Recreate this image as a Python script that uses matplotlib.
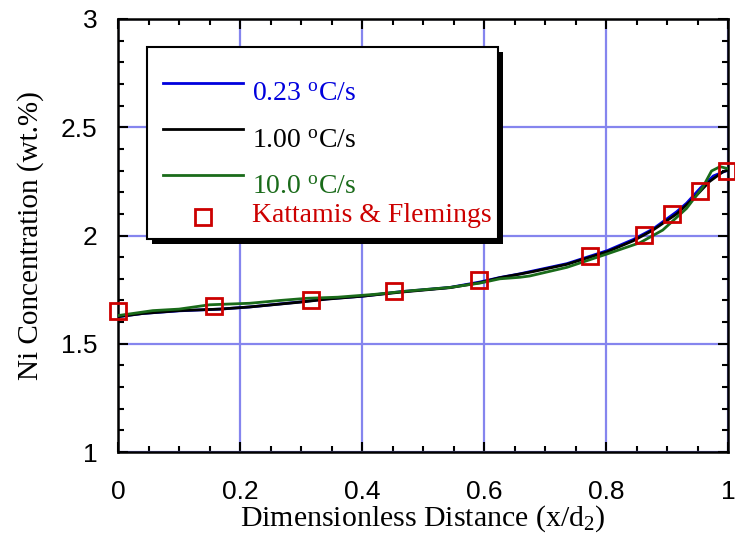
import numpy as np
import matplotlib
matplotlib.use("Agg")
import matplotlib.pyplot as plt
from matplotlib.ticker import MultipleLocator
from matplotlib.patches import Rectangle

plt.rcParams["mathtext.fontset"] = "custom"
plt.rcParams["mathtext.rm"] = "Liberation Serif"
plt.rcParams["mathtext.it"] = "Liberation Serif:italic"

# Kattamis & Flemings measurements
exp_x = [0.0, 0.157, 0.316, 0.452, 0.591, 0.773, 0.863, 0.909, 0.954, 0.998]
exp_y = [1.652, 1.673, 1.703, 1.745, 1.796, 1.907, 2.002, 2.099, 2.206, 2.298]

# simulated profiles
x_black = [0.0, 0.041, 0.10, 0.167, 0.216, 0.298, 0.342, 0.402, 0.462, 0.544,
           0.593, 0.626, 0.659, 0.680, 0.736, 0.802, 0.845, 0.877, 0.916,
           0.943, 0.970, 0.992, 0.998]
y_black = [1.625, 1.64, 1.653, 1.66, 1.67, 1.692, 1.706, 1.72, 1.738, 1.759,
           1.782, 1.805, 1.822, 1.833, 1.867, 1.925, 1.976, 2.025, 2.10,
           2.17, 2.25, 2.295, 2.30]

x_blue = [0.0, 0.041, 0.10, 0.167, 0.216, 0.298, 0.342, 0.402, 0.462, 0.544,
          0.593, 0.626, 0.659, 0.680, 0.736, 0.802, 0.845, 0.877, 0.916,
          0.932, 0.955, 0.976, 0.998]
y_blue = [1.625, 1.64, 1.652, 1.66, 1.67, 1.693, 1.707, 1.72, 1.74, 1.76,
          1.785, 1.806, 1.823, 1.836, 1.87, 1.93, 1.982, 2.03, 2.11,
          2.149, 2.22, 2.275, 2.30]

x_green = [0.0, 0.057, 0.10, 0.15, 0.216, 0.266, 0.31, 0.36, 0.42, 0.48,
           0.544, 0.593, 0.626, 0.659, 0.675, 0.736, 0.802, 0.856, 0.893,
           0.932, 0.959, 0.973, 0.987, 0.998]
y_green = [1.63, 1.653, 1.66, 1.68, 1.687, 1.70, 1.71, 1.715, 1.728, 1.745,
           1.76, 1.78, 1.80, 1.807, 1.813, 1.853, 1.915, 1.967, 2.025,
           2.125, 2.225, 2.298, 2.318, 2.31]

labels = [r"0.23 $^{\mathrm{o}}$C/s", r"1.00 $^{\mathrm{o}}$C/s",
          r"10.0 $^{\mathrm{o}}$C/s", "Kattamis & Flemings"]
colors = ["#0000dd", "black", "#1a6b1a", "#cc0000"]

fig = plt.figure(figsize=(7.35, 5.46), dpi=100)
ax = fig.add_axes([118 / 735, 94 / 546, 610 / 735, 433 / 546])

ax.plot(x_blue, y_blue, color=colors[0], lw=2, zorder=3)
ax.plot(x_black, y_black, color=colors[1], lw=2, zorder=3)
ax.plot(x_green, y_green, color=colors[2], lw=2, zorder=3)
ax.plot(exp_x, exp_y, ls="none", marker="s", ms=11, mfc="none",
        mec=colors[3], mew=2, zorder=4, clip_on=False)

ax.set_xlim(0, 1)
ax.set_ylim(1, 3)
ax.xaxis.set_minor_locator(MultipleLocator(0.05))
ax.yaxis.set_minor_locator(MultipleLocator(0.1))
ax.set_xticks([0, 0.2, 0.4, 0.6, 0.8, 1.0])
ax.set_xticklabels(["0", "0.2", "0.4", "0.6", "0.8", "1"])
ax.set_yticks([1, 1.5, 2, 2.5, 3])
ax.set_yticklabels(["1", "1.5", "2", "2.5", "3"])

ax.grid(True, which="major", color="#8585ee", lw=1.6, zorder=0)
ax.tick_params(which="both", direction="in", top=True, right=True,
               width=1.5, labelsize=19)
ax.tick_params(axis="x", which="major", pad=20)
ax.tick_params(axis="y", which="major", pad=15)
ax.tick_params(which="major", length=7)
ax.tick_params(which="minor", length=4)
for lab in ax.get_xticklabels() + ax.get_yticklabels():
    lab.set_family("Liberation Sans")
for s in ax.spines.values():
    s.set_linewidth(1.8)

ax.set_xlabel(r"Dimensionless Distance (x/d$_2$)", family="Liberation Serif",
              fontsize=21.5, labelpad=0)
ax.set_ylabel("Ni Concentration (wt.%)", family="Liberation Serif",
              fontsize=21, labelpad=12)

# legend: box with solid black drop shadow, entries drawn in axes coordinates
box_x0, box_x1 = 0.0475, 0.623
box_y0, box_y1 = 0.492, 0.935
dx, dy = 5 / 610, 5 / 433
ax.add_patch(Rectangle((box_x0 + dx, box_y0 - dy), box_x1 - box_x0, box_y1 - box_y0,
                       transform=ax.transAxes, facecolor="black", edgecolor="none",
                       zorder=4.5))
ax.add_patch(Rectangle((box_x0, box_y0), box_x1 - box_x0, box_y1 - box_y0,
                       transform=ax.transAxes, facecolor="white", edgecolor="black",
                       lw=1.5, zorder=4.6))

handle_x0, handle_x1, text_x = 0.0738, 0.205, 0.220
handle_y = [0.852, 0.746, 0.640, 0.543]
text_y = [0.810, 0.702, 0.596, 0.531]
for i in range(3):
    ax.plot([handle_x0, handle_x1], [handle_y[i]] * 2, color=colors[i], lw=2,
            transform=ax.transAxes, zorder=5)
ax.plot([(handle_x0 + handle_x1) / 2], [handle_y[3]], ls="none", marker="s",
        ms=11, mfc="none", mec=colors[3], mew=2, transform=ax.transAxes, zorder=5)
for i in range(4):
    ax.text(text_x, text_y[i], labels[i], color=colors[i], fontsize=20,
            family="Liberation Serif", ha="left", va="baseline",
            transform=ax.transAxes, zorder=5)

fig.savefig("out.png", dpi=100)
